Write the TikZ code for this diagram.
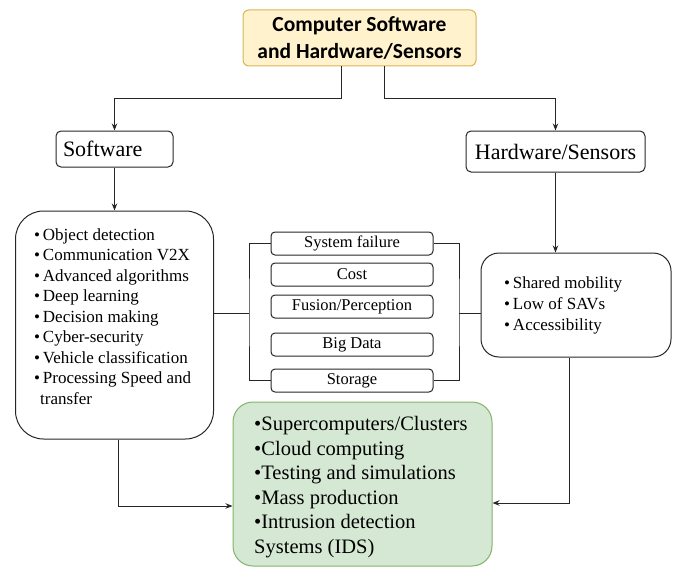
\documentclass[tikz,border=0pt]{standalone}
\usepackage{fontspec}
\setmainfont{Liberation Serif}
\newfontfamily\titlefont{Carlito}
\usetikzlibrary{arrows.meta}
\definecolor{yellowfill}{HTML}{FFF2CC}
\definecolor{yellowline}{HTML}{D6B656}
\definecolor{greenfill}{HTML}{D5E8D4}
\definecolor{greenline}{HTML}{82B366}

\begin{document}
\begin{tikzpicture}[x=1pt,y=-1pt]
	\tikzstyle{Line} = [draw=black!85, line width=1pt]
	\tikzstyle{Arrow} = [Line, -{Stealth[length=7pt,width=5.5pt]}]
	\tikzstyle{Box} = [draw=black!85, line width=1pt, inner sep=0pt]
	\tikzstyle{Item} = [Box, rounded corners=4pt, minimum width=162pt, minimum height=23pt, font=\fontsize{16.5}{20}\selectfont]
	\tikzstyle{List} = [inner sep=0pt, align=left, anchor=north west, font=\fontsize{17}{20.5}\selectfont]
	\useasboundingbox (0,0) rectangle (676,567);

	% title and the two branches
	\node[draw=yellowline, fill=yellowfill, line width=1pt, rounded corners=6pt, minimum width=233pt, minimum height=56pt, align=center, font=\titlefont\bfseries\fontsize{21.5}{27}\selectfont] (top) at (359.5,38) {\raisebox{-2.5pt}{Computer Software}\\\raisebox{-2.5pt}{and Hardware/Sensors}};
	\node[Box, rounded corners=5pt, minimum width=117pt, minimum height=36pt, text width=103pt, align=left, font=\fontsize{22}{26}\selectfont] (sw) at (114.5,149) {Software};
	\node[Box, rounded corners=5pt, minimum width=179pt, minimum height=41pt, font=\fontsize{22}{26}\selectfont] (hw) at (555.5,151.5) {Hardware/Sensors};

	% lists
	\node[Box, rounded corners=28pt, minimum width=198pt, minimum height=228pt] (swl) at (114.5,325) {};
	\node[List] (swtext) at (34,228) {\textbullet\,Object detection\\ \textbullet\,Communication V2X\\ \textbullet\,Advanced algorithms\\ \textbullet\,Deep learning\\ \textbullet\,Decision making\\ \textbullet\,Cyber-security\\ \textbullet\,Vehicle classification\\ \textbullet\,Processing Speed and\\ \hspace{6pt}transfer};
	\node[Box, rounded corners=18pt, minimum width=190pt, minimum height=104pt] (hwl) at (576,305) {};
	\node[List] (hwtext) at (504,277) {\textbullet\,Shared mobility\\ \textbullet\,Low of SAVs\\ \textbullet\,Accessibility};
	\node[draw=greenline, fill=greenfill, line width=1pt, rounded corners=20pt, minimum width=259pt, minimum height=164pt, inner sep=0pt] (bot) at (362.5,484) {};
	\node[List, font=\fontsize{20.5}{24.6}\selectfont] (bottext) at (254,416) {\textbullet Supercomputers/Clusters\\ \textbullet Cloud computing\\ \textbullet Testing and simulations\\ \textbullet Mass production\\ \textbullet Intrusion detection\\ Systems (IDS)};

	% challenges in the middle
	\node[Item] (f1) at (352,243.5) {System failure};
	\node[Item] (f2) at (352,274.5) {Cost};
	\node[Item] (f3) at (352,306.5) {Fusion/Perception};
	\node[Item] (f4) at (352,344.5) {Big Data};
	\node[Item] (f5) at (352,380.5) {Storage};
	\coordinate (jl) at (249,313);
	\coordinate (jr) at (459,313);

	% connectors
	\draw[Arrow] ([xshift=-18.5pt]top.south) -- ++(0,32) -| (sw.north);
	\draw[Arrow] ([xshift=24.5pt]top.south) -- ++(0,32) -| (hw.north);
	\draw[Arrow] (sw.south) -- (swl.north);
	\draw[Arrow] (hw.south) -- (hw.south |- hwl.north);
	\draw[Arrow] ([xshift=3.5pt]swl.south) |- ([yshift=-22pt]bot.west);
	\draw[Arrow] ([xshift=-7pt]hwl.south) |- ([yshift=-19pt]bot.east);
	\draw[Line] (f1.west) -| (jl) |- (f5.west);
	\draw[Line] (f1.east) -| (jr) |- (f5.east);
	\draw[Line] (jl) -- (jl -| swl.east);
	\draw[Line] (jr) -- (jr -| hwl.west);
\end{tikzpicture}
\end{document}
